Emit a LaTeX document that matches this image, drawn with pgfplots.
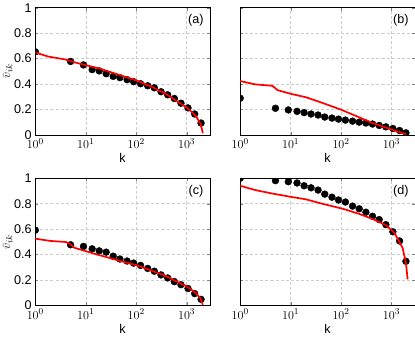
\documentclass[border=0pt]{standalone}
\usepackage{fontspec}
\setmainfont{Liberation Sans}
\usepackage{pgfplots}
\pgfplotsset{compat=1.18}
\usepgfplotslibrary{groupplots}

\pgfplotstableread{
k     a     b     c     d
1     0.653 0.288 0.592 1.000
5     0.577 0.209 0.477 0.981
9     0.550 0.196 0.464 0.973
13.4  0.513 0.185 0.445 0.963
18.5  0.503 0.175 0.429 0.941
25.4  0.481 0.164 0.419 0.925
35    0.460 0.156 0.387 0.907
47.5  0.450 0.140 0.365 0.875
66    0.434 0.132 0.349 0.851
89    0.418 0.124 0.333 0.829
122   0.402 0.116 0.315 0.813
169   0.386 0.108 0.291 0.781
229   0.370 0.100 0.269 0.760
311   0.339 0.093 0.240 0.733
421   0.315 0.085 0.216 0.701
571   0.286 0.074 0.187 0.675
774   0.249 0.063 0.163 0.635
1066  0.212 0.050 0.133 0.579
1446  0.164 0.034 0.093 0.507
1935  0.093 0.016 0.048 0.347
}\pts

\begin{document}
\begin{tikzpicture}
\begin{groupplot}[
  group style={group size=2 by 2, horizontal sep=30pt, vertical sep=43pt,
    y descriptions at=edge left},
  scale only axis, width=173pt, height=126pt,
  xmode=log, xmin=1, xmax=2900, ymin=0, ymax=1,
  xtick={1,10,100,1000}, xminorticks=false,
  ytick={0,0.2,0.4,0.6,0.8,1}, yticklabels={0,0.2,0.4,0.6,0.8,1},
  tick align=inside, major tick length=3pt,
  grid=major, major grid style={densely dashed, gray!40},
  xlabel={k}, ylabel={$\bar{v}_{ik}$},
  xlabel style={yshift=2pt}, ylabel style={yshift=-5pt},
  tick label style={font=\fontsize{12.5}{14}\selectfont},
  label style={font=\fontsize{12.5}{14}\selectfont},
  clip marker paths=true,
]
\nextgroupplot
\addplot[only marks, mark=*, mark size=3.4pt, black] table[x=k, y=a] {\pts};
\addplot[red, line width=1.7pt] coordinates {(1,0.648)(1.8,0.616)(3.9,0.593)(6.2,0.569)(10,0.548)(18,0.524)(39,0.481)(100,0.429)(209,0.376)(385,0.323)(1030,0.212)(1510,0.151)(1900,0.085)(2100,0.013)};
\node[font=\fontsize{12.5}{14}\selectfont] at (rel axis cs:0.92,0.9) {(a)};

\nextgroupplot
\addplot[only marks, mark=*, mark size=3.4pt, black] table[x=k, y=b] {\pts};
\addplot[red, line width=1.7pt] coordinates {(1,0.423)(2,0.397)(4.3,0.386)(4.6,0.378)(5.5,0.352)(10,0.323)(20,0.296)(43,0.251)(100,0.198)(229,0.138)(417,0.093)(1050,0.04)(1660,0.013)(1950,0.005)};
\node[font=\fontsize{12.5}{14}\selectfont] at (rel axis cs:0.92,0.9) {(b)};

\nextgroupplot
\addplot[only marks, mark=*, mark size=3.4pt, black] table[x=k, y=c] {\pts};
\addplot[red, line width=1.7pt] coordinates {(1,0.525)(2,0.507)(4,0.499)(4.7,0.488)(6,0.453)(10,0.427)(18,0.397)(39,0.36)(100,0.317)(209,0.272)(385,0.232)(1030,0.147)(1510,0.099)(1900,0.053)(2100,0.005)};
\node[font=\fontsize{12.5}{14}\selectfont] at (rel axis cs:0.92,0.9) {(c)};

\nextgroupplot
\addplot[only marks, mark=*, mark size=3.4pt, black] table[x=k, y=d] {\pts};
\addplot[red, line width=1.7pt] coordinates {(1,0.941)(2,0.907)(4.3,0.88)(10.4,0.853)(19.7,0.835)(42,0.8)(109,0.76)(228,0.72)(420,0.68)(773,0.632)(1134,0.573)(1660,0.453)(1936,0.333)(2090,0.205)};
\node[font=\fontsize{12.5}{14}\selectfont] at (rel axis cs:0.92,0.9) {(d)};
\end{groupplot}
\end{tikzpicture}
\end{document}
